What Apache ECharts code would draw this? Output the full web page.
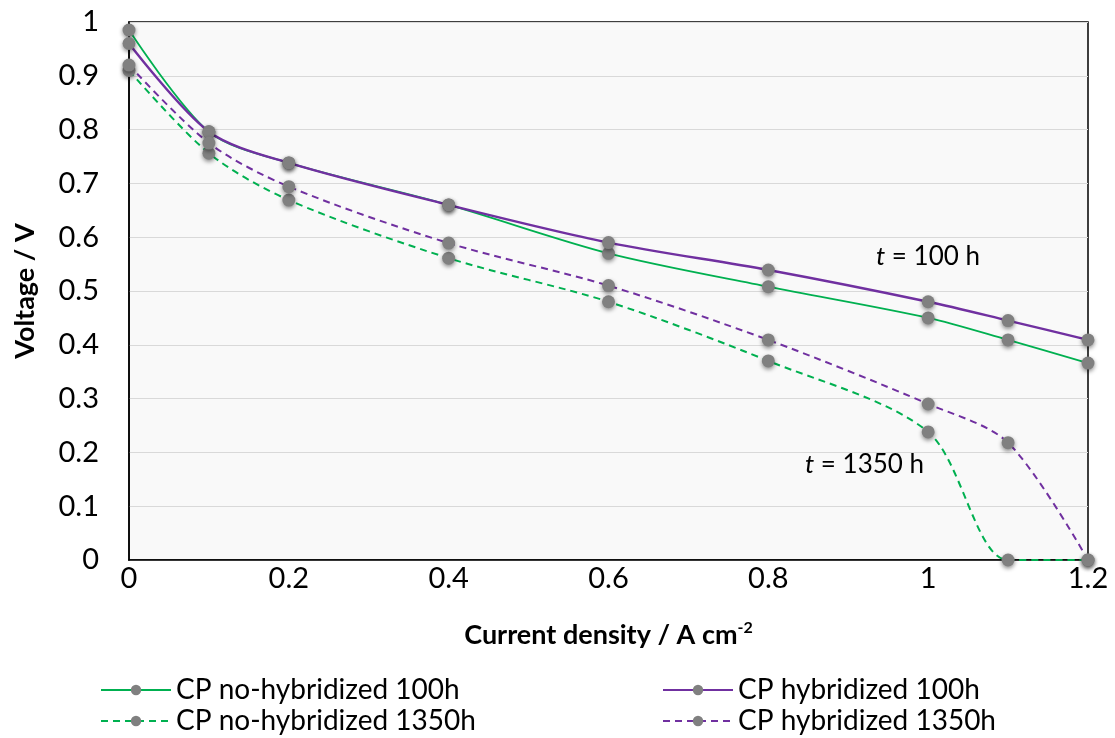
<!DOCTYPE html>
<html>
<head>
<meta charset="utf-8">
<script src="https://cdn.jsdelivr.net/npm/echarts@6/dist/echarts.min.js"></script>
<style>
  html, body { margin: 0; padding: 0; background: #fff; }
  #chart { width: 1115px; height: 738px; }
</style>
</head>
<body>
<div id="chart"></div>
<script>
// current density (A cm-2)
const currentDensity = [0, 0.1, 0.2, 0.4, 0.6, 0.8, 1.0, 1.1, 1.2];

// voltage (V)
const noHyb100 = [0.985, 0.796, 0.738, 0.66, 0.57, 0.508, 0.45, 0.409, 0.366];
const hyb100 = [0.96, 0.796, 0.738, 0.66, 0.59, 0.539, 0.48, 0.445, 0.409];
const noHyb1350 = [0.91, 0.756, 0.669, 0.561, 0.48, 0.37, 0.238, 0, 0];
const hyb1350 = [0.92, 0.775, 0.694, 0.589, 0.51, 0.409, 0.29, 0.218, 0];

const seriesNames = [
    'CP no-hybridized 100h',
    'CP hybridized 100h',
    'CP no-hybridized 1350h',
    'CP hybridized 1350h'
];

const FONT = 'Lato, "Open Sans", sans-serif';
const GREEN = '#00b050';
const PURPLE = '#7030a0';

const toPairs = vals => currentDensity.map((x, i) => [x, vals[i]]);

const makeSeries = (name, vals, color, dashed, width) => ({
    name: name,
    type: 'line',
    smooth: 0.3,
    symbol: 'circle',
    symbolSize: 13,
    data: toPairs(vals),
    lineStyle: {
        color: color,
        width: width,
        type: dashed ? [7, 5] : 'solid'
    },
    itemStyle: {
        color: '#808080',
        shadowBlur: 4,
        shadowColor: 'rgba(0,0,0,0.45)',
        shadowOffsetY: 2
    },
    emphasis: { disabled: true }
});

const legendAt = (name, left, top) => ({
    data: [name],
    left: left,
    top: top,
    itemWidth: 70,
    itemHeight: 13,
    itemGap: 6,
    textStyle: { fontFamily: FONT, fontSize: 28, color: '#000' }
});

const tickRich = { t: { fontFamily: FONT, fontSize: 29, color: '#000' } };

const chart = echarts.init(document.getElementById('chart'));
chart.setOption({
    animation: false,
    grid: {
        left: 129,
        right: 27,
        top: 22,
        bottom: 178,
        show: true,
        backgroundColor: '#f9f9f9',
        borderColor: '#000',
        borderWidth: 1.5
    },
    xAxis: {
        type: 'value',
        min: 0,
        max: 1.2,
        interval: 0.2,
        name: 'Current density / A cm{sup|-2}',
        nameLocation: 'middle',
        nameGap: 60,
        nameTextStyle: {
            fontFamily: FONT,
            fontSize: 27,
            fontWeight: 'bold',
            color: '#000',
            rich: {
                sup: { fontFamily: FONT, fontSize: 16, fontWeight: 'bold', color: '#000', padding: [0, 0, 14, 0] }
            }
        },
        axisLine: { show: true, lineStyle: { color: '#000', width: 1.5 } },
        axisTick: { show: false },
        splitLine: { show: false },
        axisLabel: {
            fontFamily: FONT, fontSize: 29, color: '#000', margin: 4,
            formatter: v => '{t|' + v + '}',
            rich: tickRich
        }
    },
    yAxis: {
        type: 'value',
        min: 0,
        max: 1,
        interval: 0.1,
        name: 'Voltage / V',
        nameLocation: 'middle',
        nameGap: 90,
        nameTextStyle: { fontFamily: FONT, fontSize: 27, fontWeight: 'bold', color: '#000' },
        axisLine: { show: true, lineStyle: { color: '#000', width: 1.5 } },
        axisTick: { show: false },
        splitLine: { lineStyle: { color: '#d9d9d9', width: 1.2 } },
        axisLabel: {
            fontFamily: FONT, fontSize: 29, color: '#000', margin: 30,
            formatter: v => '{t|' + v + '}',
            rich: tickRich
        }
    },
    legend: [
        legendAt(seriesNames[0], 95, 671),
        legendAt(seriesNames[2], 95, 702),
        legendAt(seriesNames[1], 657, 671),
        legendAt(seriesNames[3], 657, 702)
    ],
    graphic: [
        {
            type: 'text',
            left: 876,
            top: 244,
            style: {
                text: '{i|t} = 100 h',
                fontFamily: FONT,
                fontSize: 26,
                fill: '#000',
                rich: { i: { fontFamily: FONT, fontSize: 26, fontStyle: 'italic' } }
            }
        },
        {
            type: 'text',
            left: 805,
            top: 452,
            style: {
                text: '{i|t} = 1350 h',
                fontFamily: FONT,
                fontSize: 26,
                fill: '#000',
                rich: { i: { fontFamily: FONT, fontSize: 26, fontStyle: 'italic' } }
            }
        }
    ],
    series: [
        makeSeries(seriesNames[0], noHyb100, GREEN, false, 1.8),
        makeSeries(seriesNames[1], hyb100, PURPLE, false, 2.4),
        makeSeries(seriesNames[2], noHyb1350, GREEN, true, 2),
        makeSeries(seriesNames[3], hyb1350, PURPLE, true, 2)
    ]
});
</script>
</body>
</html>
